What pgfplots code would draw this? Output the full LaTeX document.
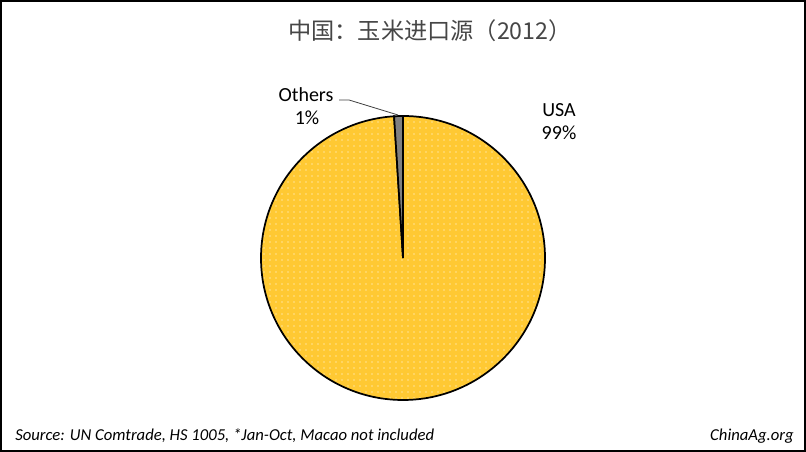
\documentclass[border=0pt]{standalone}
\usepackage{fontspec}
\setmainfont{Carlito}
\newfontfamily\cjk{Noto Sans CJK SC}
\usepackage{pgfplots}
\pgfplotsset{compat=1.18}
\usepackage{pgfplotstable}
\usetikzlibrary{patterns.meta}

\definecolor{cornyellow}{RGB}{255,201,51}
\definecolor{othergray}{RGB}{128,128,128}
\definecolor{titlegray}{RGB}{70,70,70}

% import shares, percent
\pgfplotstableread{
source share
USA 99
Others 1
}\imports

\begin{document}
\begin{tikzpicture}
\pgfplotstablegetelem{0}{share}\of\imports \let\usa\pgfplotsretval
\pgfplotstablegetelem{1}{share}\of\imports \let\oth\pgfplotsretval
\pgfmathsetmacro\tot{\usa+\oth}
% Excel style: start at 12 o'clock, clockwise
\pgfmathsetmacro\aend{90-360*(\usa/\tot)}
\pgfmathsetmacro\astart{\aend+360}
\def\R{106.5pt}
\begin{axis}[
  hide axis,
  scale only axis,
  width=604.5pt, height=339pt,
  xmin=0, xmax=806, ymin=0, ymax=452,
  clip=false,
]
% frame
\draw[line width=1.5pt] (axis cs:1,1) rectangle (axis cs:805,451);
% title
\node[text=titlegray, font=\cjk\fontsize{17.4}{20}\selectfont] at (axis cs:430,421) {中国：玉米进口源（2012）};
% slices
\fill[cornyellow] (axis cs:403,194) -- ++(90:\R) arc[start angle=90, end angle=\aend, radius=\R] -- cycle;
\fill[pattern={Dots[distance=4.5pt, radius=0.55pt]}, pattern color=white] (axis cs:403,194) -- ++(90:\R) arc[start angle=90, end angle=\aend, radius=\R] -- cycle;
\draw[line width=1.3pt] (axis cs:403,194) -- ++(90:\R) arc[start angle=90, end angle=\aend, radius=\R] -- cycle;
\filldraw[fill=othergray, line width=1.3pt] (axis cs:403,194) -- ++(\astart:\R) arc[start angle=\astart, end angle=90, radius=\R] -- cycle;
% labels
\node[anchor=base, font=\fontsize{15}{18}\selectfont] at (axis cs:306,350) {Others};
\node[anchor=base, font=\fontsize{15}{18}\selectfont] at (axis cs:307,327) {1\%};
\node[anchor=base, font=\fontsize{15}{18}\selectfont] at (axis cs:559,335) {USA};
\node[anchor=base, font=\fontsize{15}{18}\selectfont] at (axis cs:559,312) {99\%};
\draw[black!75, line width=0.6pt] (axis cs:339,352) -- (axis cs:349,352) -- (axis cs:398,337);
% footer
\node[anchor=base west, inner sep=0pt, font=\itshape\fontsize{12.5}{14}\selectfont] at (axis cs:15,11) {Source: UN Comtrade, HS 1005, *Jan-Oct, Macao not included};
\node[anchor=base east, inner sep=0pt, font=\itshape\fontsize{12.5}{14}\selectfont] at (axis cs:794,11) {ChinaAg.org};
\end{axis}
\end{tikzpicture}
\end{document}
